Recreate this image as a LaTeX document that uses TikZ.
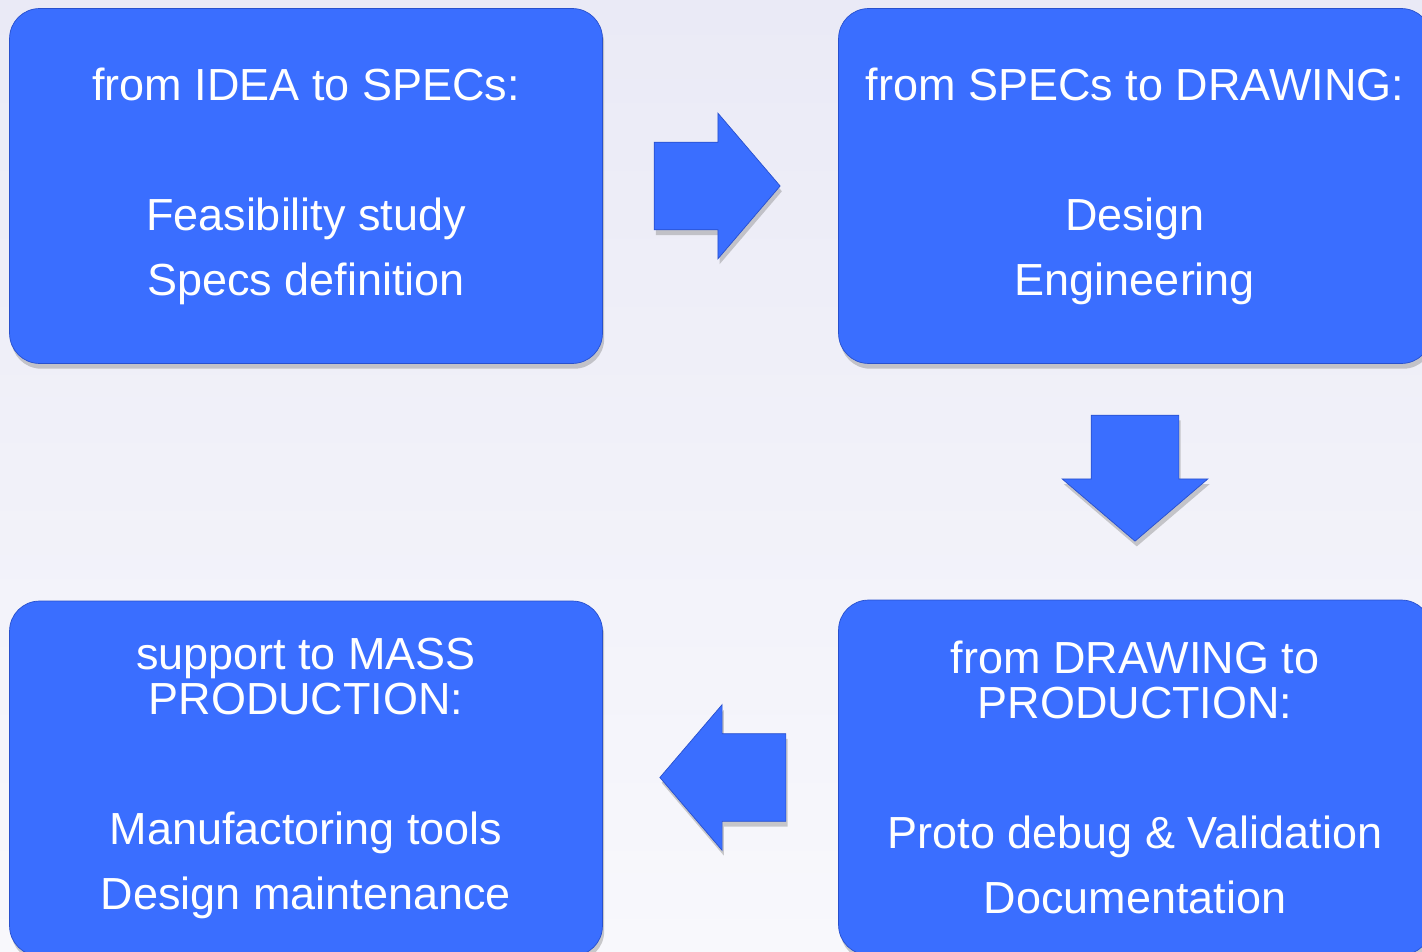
\documentclass[tikz,border=0pt]{standalone}
\usepackage{fontspec}
\setmainfont{Liberation Sans}
\usetikzlibrary{positioning,shapes.arrows,shadows}
\definecolor{stageblue}{RGB}{58,110,255}
\definecolor{rimblue}{RGB}{40,80,205}
\definecolor{bgtop}{RGB}{234,234,246}
\definecolor{bgbottom}{RGB}{248,248,252}
\begin{document}
\begin{tikzpicture}[x=0.02cm, y=-0.02cm, every node/.style={font=\fontsize{25.6pt}{37pt}\selectfont}]
    % Styles
    \tikzstyle{stage} = [rectangle, rounded corners=0.6cm, minimum width=11.86cm, minimum height=7.1cm, align=center, fill=stageblue, draw=rimblue, text=white, drop shadow={shadow xshift=1pt, shadow yshift=-3pt, opacity=0.4}]
    \tikzstyle{flow} = [single arrow, minimum height=2.52cm, inner xsep=0pt, inner ysep=0.87cm, single arrow head extend=0.58cm, single arrow tip angle=99, fill=stageblue, draw=rimblue, drop shadow={shadow xshift=1pt, shadow yshift=-3pt, opacity=0.4}]

    % Background
    \clip (0,0) rectangle (1422,952);
    \shade [top color=bgtop, bottom color=bgbottom] (0,0) rectangle (1422,952);

    % Nodes
    \node (idea)   [stage] at (306,186) {from IDEA to SPECs:\\[37pt]Feasibility study\\Specs definition};
    \node (design) [stage] at (1135,186) {from SPECs to DRAWING:\\[37pt]Design\\Engineering};
    \node (proto)  [stage] at (1135,777.5) {from DRAWING to\\[-11pt]PRODUCTION:\\[37pt]Proto debug \& Validation\\Documentation};
    \node (mass)   [stage] at (306,778.5) {support to MASS\\[-11pt]PRODUCTION:\\[37pt]Manufactoring tools\\Design maintenance};

    % Arrows
    \node (tospecs) [flow, right=1.02cm of idea] {};
    \node (todraw)  [flow, shape border rotate=270, inner xsep=0.87cm, inner ysep=0pt, below=1.02cm of design] {};
    \node (tomass)  [flow, shape border rotate=180, left=1.04cm of proto] {};
\end{tikzpicture}
\end{document}
